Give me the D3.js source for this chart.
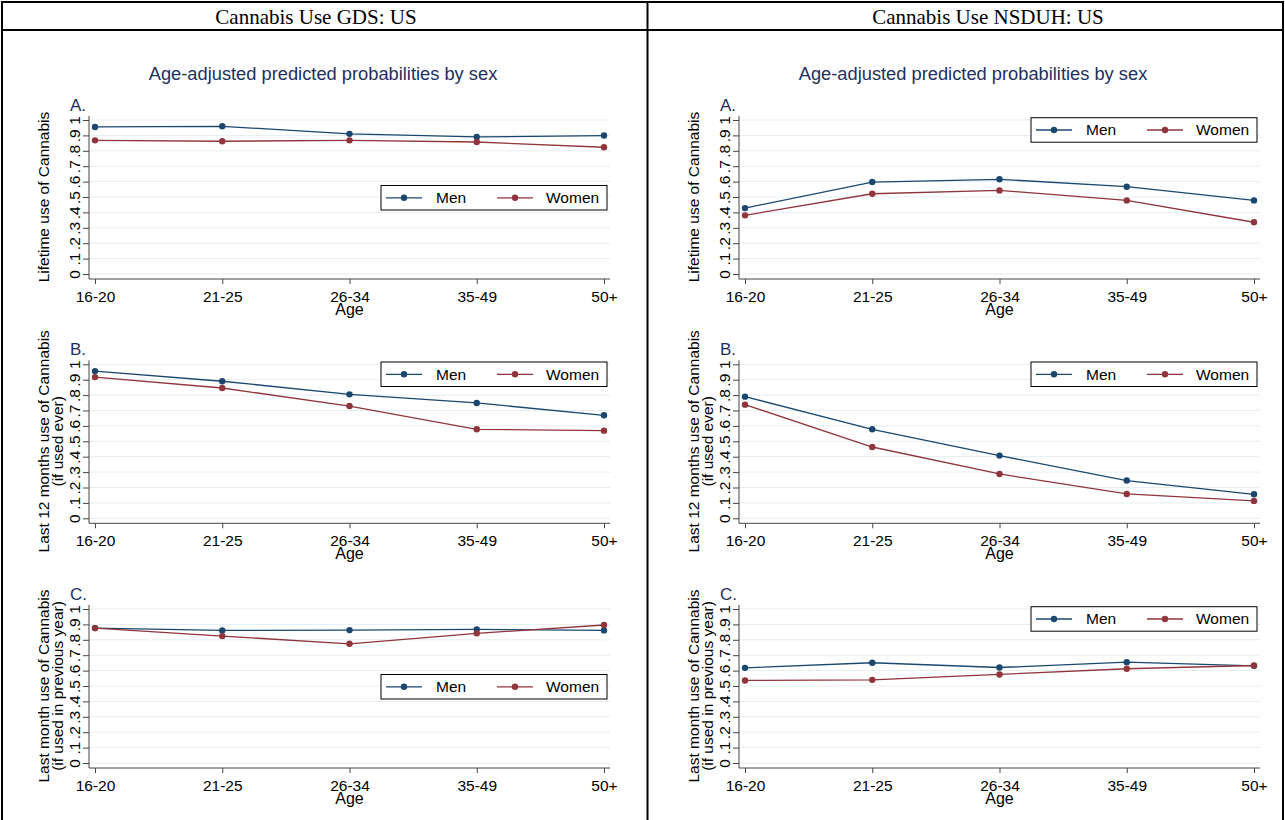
<!DOCTYPE html>
<html>
<head>
<meta charset="utf-8">
<script src="https://cdn.jsdelivr.net/npm/d3@7"></script>
<style>
  body { margin: 0; background: #fff; }
  svg { display: block; }
</style>
</head>
<body>
<div id="chart"></div>
<script>
// ---- data ----
const ageGroups = ['16-20', '21-25', '26-34', '35-49', '50+'];
const yTickValues = [0, 0.1, 0.2, 0.3, 0.4, 0.5, 0.6, 0.7, 0.8, 0.9, 1];
const yTickLabels = ['0', '.1', '.2', '.3', '.4', '.5', '.6', '.7', '.8', '.9', '1'];
const sexes = ['Men', 'Women'];

// GDS: US
const gdsLifetimeMen   = [0.955, 0.959, 0.910, 0.890, 0.899];
const gdsLifetimeWomen = [0.868, 0.862, 0.868, 0.857, 0.823];
const gdsYearMen       = [0.956, 0.890, 0.805, 0.749, 0.669];
const gdsYearWomen     = [0.917, 0.846, 0.729, 0.578, 0.569];
const gdsMonthMen      = [0.876, 0.861, 0.863, 0.868, 0.861];
const gdsMonthWomen    = [0.876, 0.824, 0.774, 0.842, 0.896];

// NSDUH: US
const nsduhLifetimeMen   = [0.428, 0.597, 0.615, 0.567, 0.478];
const nsduhLifetimeWomen = [0.381, 0.521, 0.543, 0.478, 0.336];
const nsduhYearMen       = [0.790, 0.578, 0.407, 0.245, 0.156];
const nsduhYearWomen     = [0.738, 0.463, 0.288, 0.158, 0.113];
const nsduhMonthMen      = [0.618, 0.651, 0.620, 0.655, 0.631];
const nsduhMonthWomen    = [0.536, 0.540, 0.575, 0.612, 0.633];

const columnTitles = ['Cannabis Use GDS: US', 'Cannabis Use NSDUH: US'];
const subtitle = 'Age-adjusted predicted probabilities by sex';
const panelLetters = ['A.', 'B.', 'C.'];
const yTitles = [
  ['Lifetime use of Cannabis'],
  ['Last 12 months use of Cannabis', '(if used ever)'],
  ['Last month use of Cannabis', '(if used in previous year)']
];
const xTitle = 'Age';

// ---- layout ----
const W = 1285, H = 820;
const colors = { Men: '#1a476f', Women: '#90353b' };
const sans = '"Liberation Sans", Arial, sans-serif';
const serif = '"Liberation Serif", "Times New Roman", serif';
const navy = '#1f2f5e';
const rowTops = [120, 364.3, 609];
const plotH = 154;

const columns = [
  { offset: 0, titleX: 316, series: [[gdsLifetimeMen, gdsLifetimeWomen], [gdsYearMen, gdsYearWomen], [gdsMonthMen, gdsMonthWomen]], legend: ['mid', 'top', 'mid'] },
  { offset: 650, titleX: 988, series: [[nsduhLifetimeMen, nsduhLifetimeWomen], [nsduhYearMen, nsduhYearWomen], [nsduhMonthMen, nsduhMonthWomen]], legend: ['top', 'top', 'top'] }
];

const svg = d3.select('#chart').append('svg')
  .attr('width', W)
  .attr('height', H);

// table frame
const frame = svg.append('g').attr('stroke', '#000').attr('stroke-width', 2);
frame.append('line').attr('x1', 1).attr('x2', W - 1).attr('y1', 2).attr('y2', 2);
frame.append('line').attr('x1', 1).attr('x2', W - 1).attr('y1', 30).attr('y2', 30);
frame.append('line').attr('x1', 2).attr('x2', 2).attr('y1', 1).attr('y2', H);
frame.append('line').attr('x1', W - 2).attr('x2', W - 2).attr('y1', 1).attr('y2', H);
frame.append('line').attr('x1', 647.5).attr('x2', 647.5).attr('y1', 1).attr('y2', H);

columns.forEach((col, c) => {
  const ox = col.offset;

  svg.append('text')
    .attr('x', col.titleX)
    .attr('y', 23.5)
    .attr('text-anchor', 'middle')
    .style('font-family', serif)
    .style('font-size', '21px')
    .text(columnTitles[c]);

  svg.append('text')
    .attr('x', ox + 323)
    .attr('y', 79.5)
    .attr('text-anchor', 'middle')
    .style('font-family', sans)
    .style('font-size', '18.3px')
    .style('fill', navy)
    .text(subtitle);

  col.series.forEach((pair, r) => {
    drawPanel(ox, rowTops[r], pair, r, col.legend[r]);
  });
});

function drawPanel(ox, top, pair, r, legendPos) {
  const g = svg.append('g');
  const axisX = ox + 89, axisEnd = ox + 610, bottom = top + plotH + 5;

  const x = d3.scalePoint().domain(ageGroups).range([ox + 95, ox + 604]);
  const y = d3.scaleLinear().domain([0, 1]).range([top + plotH, top]);

  // grid
  g.append('g')
    .selectAll('line')
    .data(yTickValues)
    .join('line')
    .attr('x1', axisX)
    .attr('x2', axisEnd)
    .attr('y1', d => y(d))
    .attr('y2', d => y(d))
    .attr('stroke', '#e5eef0')
    .attr('stroke-width', 1);

  // y axis
  const yAxis = g.append('g')
    .attr('transform', `translate(${axisX},0)`)
    .call(d3.axisLeft(y).tickValues(yTickValues).tickFormat((d, i) => yTickLabels[i]).tickSize(6).tickSizeOuter(0));
  yAxis.select('.domain').remove();
  yAxis.selectAll('.tick line').attr('stroke', '#444');
  yAxis.selectAll('.tick text')
    .attr('x', 0)
    .attr('dy', 0)
    .attr('text-anchor', 'middle')
    .attr('transform', 'translate(-9,0) rotate(-90)')
    .style('font-family', sans)
    .style('font-size', '15.5px')
    .style('fill', '#000');
  g.append('line')
    .attr('x1', axisX).attr('x2', axisX)
    .attr('y1', top - 4).attr('y2', bottom)
    .attr('stroke', '#444');

  // x axis
  const xAxis = g.append('g')
    .attr('transform', `translate(0,${bottom})`)
    .call(d3.axisBottom(x).tickSize(5).tickPadding(7).tickSizeOuter(0));
  xAxis.select('.domain').remove();
  xAxis.selectAll('.tick line').attr('stroke', '#444');
  xAxis.selectAll('.tick text')
    .style('font-family', sans)
    .style('font-size', '15.5px')
    .style('fill', '#000');
  g.append('line')
    .attr('x1', axisX).attr('x2', axisEnd)
    .attr('y1', bottom).attr('y2', bottom)
    .attr('stroke', '#444');

  g.append('text')
    .attr('x', x('26-34'))
    .attr('y', bottom + 35.5)
    .attr('text-anchor', 'middle')
    .style('font-family', sans)
    .style('font-size', '16px')
    .text(xTitle);

  // y title
  yTitles[r].forEach((line, i) => {
    const tx = axisX - 40 + i * 13.5, ty = top + plotH / 2;
    g.append('text')
      .attr('transform', `translate(${tx},${ty}) rotate(-90)`)
      .attr('text-anchor', 'middle')
      .style('font-family', sans)
      .style('font-size', '15.5px')
      .text(line);
  });

  // panel letter
  g.append('text')
    .attr('x', ox + 70)
    .attr('y', top - 9.5)
    .style('font-family', sans)
    .style('font-size', '17px')
    .style('fill', navy)
    .text(panelLetters[r]);

  // series
  const line = d3.line()
    .x((d, i) => x(ageGroups[i]))
    .y(d => y(d));

  sexes.forEach((sex, s) => {
    const vals = pair[s];
    g.append('path')
      .datum(vals)
      .attr('d', line)
      .attr('fill', 'none')
      .attr('stroke', colors[sex])
      .attr('stroke-width', 1.3);
    g.append('g')
      .selectAll('circle')
      .data(vals)
      .join('circle')
      .attr('cx', (d, i) => x(ageGroups[i]))
      .attr('cy', d => y(d))
      .attr('r', 3.2)
      .attr('fill', colors[sex]);
  });

  // legend
  const lx = ox + 381, ly = legendPos === 'top' ? top - 2.3 : top + 65.5;
  const lg = g.append('g').attr('transform', `translate(${lx},${ly})`);
  lg.append('rect')
    .attr('x', 0).attr('y', 0)
    .attr('width', 226).attr('height', 24.5)
    .attr('fill', '#fff')
    .attr('stroke', '#000')
    .attr('stroke-width', 1);
  sexes.forEach((sex, s) => {
    const bx = s * 111;
    lg.append('line')
      .attr('x1', bx + 5).attr('x2', bx + 41)
      .attr('y1', 12.3).attr('y2', 12.3)
      .attr('stroke', colors[sex])
      .attr('stroke-width', 1.3);
    lg.append('circle')
      .attr('cx', bx + 23).attr('cy', 12.3)
      .attr('r', 3.2)
      .attr('fill', colors[sex]);
    lg.append('text')
      .attr('x', s === 0 ? 55 : 165)
      .attr('y', 17.8)
      .style('font-family', sans)
      .style('font-size', '15.5px')
      .text(sex);
  });
}
</script>
</body>
</html>
